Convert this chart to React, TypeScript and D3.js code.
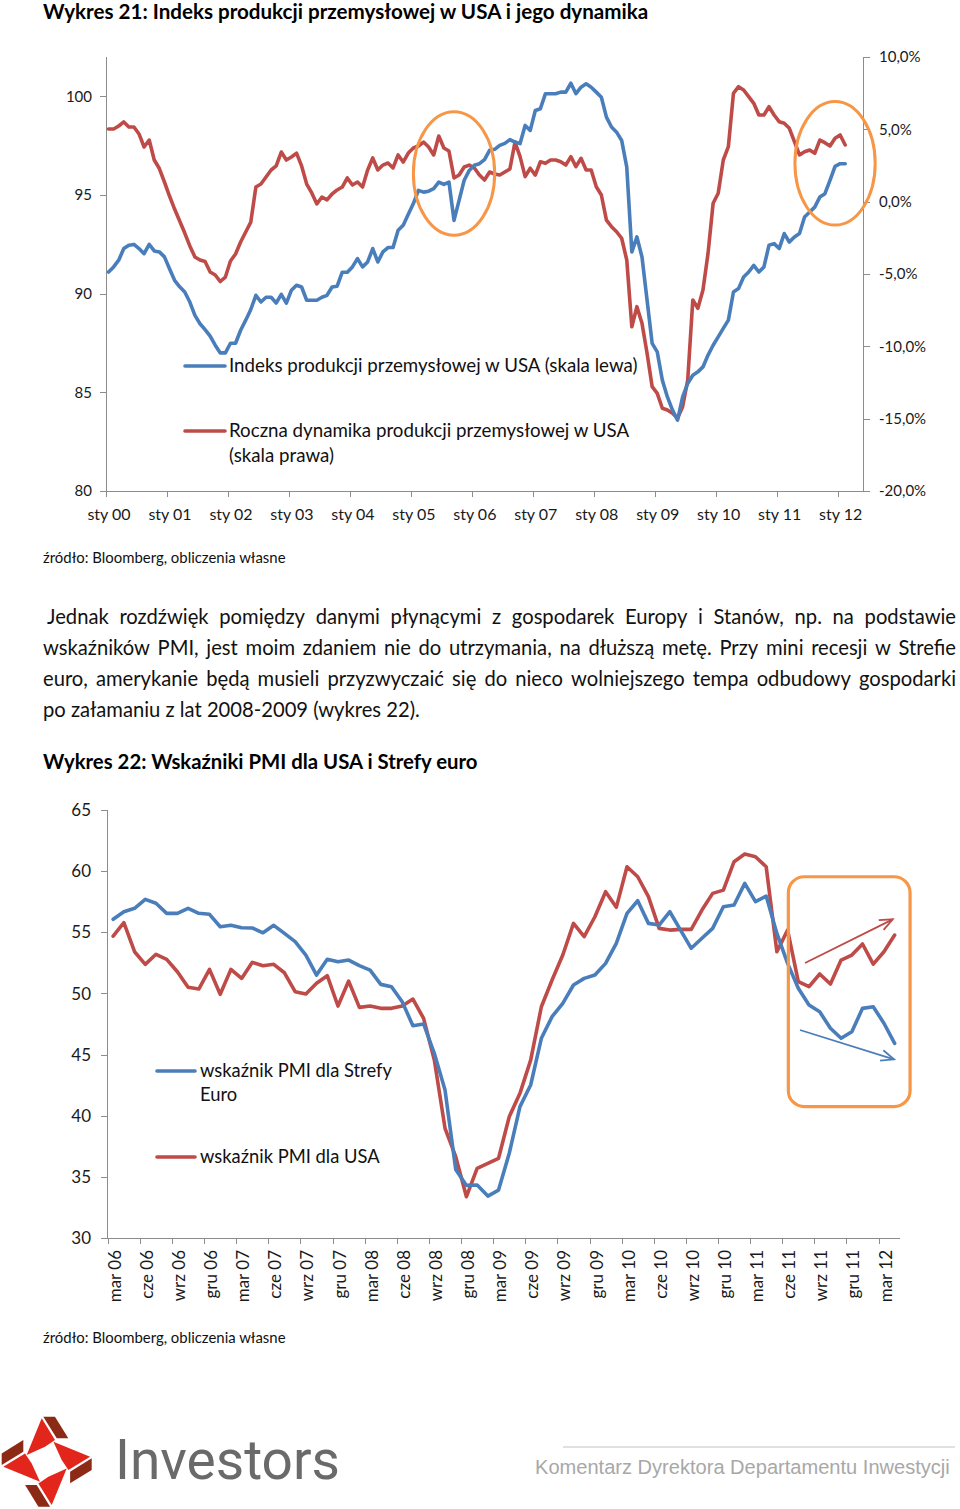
import React, { useMemo } from 'react';
import * as d3 from 'd3';

const FONT = "Lato, 'Open Sans', sans-serif";

// ---------- Wykres 21 data (monthly, sty 2000 .. lut 2012) ----------
const ipIndex = [
  91.1, 91.36, 91.7, 92.29, 92.46, 92.5, 92.29, 92.03, 92.5, 92.17,
  92.12, 91.87, 91.27, 90.68, 90.35, 90.09, 89.58, 88.9, 88.48, 88.18,
  87.85, 87.39, 87.0, 87.0, 87.49, 87.49, 88.15, 88.66, 89.2, 89.92,
  89.58, 89.82, 89.82, 89.53, 89.97, 89.52, 90.18, 90.43, 90.34, 89.67,
  89.67, 89.67, 89.82, 89.92, 90.34, 90.38, 91.09, 91.09, 91.36, 91.78,
  91.36, 91.61, 92.29, 91.61, 92.12, 92.34, 92.34, 93.22, 93.47, 94.03,
  94.57, 95.24, 95.15, 95.2, 95.33, 95.66, 95.54, 95.66, 93.72, 94.73,
  95.75, 96.25, 96.51, 96.59, 96.8, 97.27,
  97.32, 97.52, 97.62, 97.81,
  97.69, 97.61, 98.53, 98.28, 99.29, 99.38,
  100.14, 100.14, 100.14, 100.22, 100.22, 100.67, 100.14, 100.47, 100.64, 100.47,
  100.22, 99.96, 98.95, 98.45, 98.19, 97.77, 96.42, 92.12, 92.88, 91.86,
  89.67, 87.48, 87.05, 85.62, 84.77, 84.1, 83.59, 84.77, 85.45, 85.87,
  86.04, 86.29, 86.89, 87.39, 87.81, 88.24, 88.66, 90.09, 90.26, 90.85,
  91.1, 91.44, 91.1, 91.36, 92.46, 92.54, 92.29, 93.05, 92.62, 92.88,
  93.05, 93.89, 94.14, 94.39, 94.9, 95.07, 95.75, 96.46, 96.59, 96.59,
];

const ipYoY = [
  5.02, 5.02, 5.23, 5.51, 5.16, 5.16, 4.68, 3.78, 4.26, 2.88,
  2.29, 1.36, 0.39, -0.51, -1.34, -2.17, -3.06, -3.82, -4.03, -4.14,
  -4.86, -5.07, -5.52, -5.21, -4.1, -3.62, -2.79, -2.1, -1.41, 1.01,
  1.22, 1.71, 2.19, 2.47, 3.43, 2.88, 3.09, 3.36, 2.47, 1.22,
  0.6, -0.16, 0.32, 0.12, 0.53, 0.81, 1.01, 1.64, 1.15, 1.36,
  1.01, 2.19, 3.02, 2.19, 2.53, 2.67, 2.33, 3.23, 2.74, 3.36,
  3.71, 3.85, 4.12, 3.78, 3.23, 4.54, 3.71, 3.5, 1.64, 1.84,
  2.4, 2.53, 2.33, 1.84, 1.5, 2.05,
  1.91, 1.84, 2.05, 2.26, 4.12, 3.11, 1.73, 2.31, 1.84, 2.76,
  2.65, 2.88, 2.88, 2.76, 2.53, 3.11, 2.42, 3.0, 2.19,
  2.19, 1.03, 0.46, -1.27, -1.73, -2.08, -2.53, -4.03, -8.65, -7.26,
  -8.41, -10.48, -12.79, -13.25, -14.28, -14.4, -14.63, -14.97, -14.17, -12.33,
  -6.8, -7.37, -6.11, -3.57, -0.11, 0.58, 2.88, 3.8, 7.49, 7.95,
  7.72, 7.26, 6.8, 5.99, 5.99, 6.56, 5.99, 5.53, 5.42, 5.07,
  4.15, 3.23, 3.45, 3.57, 3.34, 4.26, 4.08, 3.85, 4.38, 4.61,
  3.92,
];

const yearLabels = ['sty 00', 'sty 01', 'sty 02', 'sty 03', 'sty 04', 'sty 05', 'sty 06', 'sty 07', 'sty 08', 'sty 09', 'sty 10', 'sty 11', 'sty 12'];
const leftTicks1 = [80, 85, 90, 95, 100];
const rightTicks1 = [-20, -15, -10, -5, 0, 5, 10];

// ---------- Wykres 22 data (monthly, mar 2006 .. kwi 2012) ----------
const pmiEuro = [
  56.06, 56.68, 56.96, 57.69, 57.37, 56.55, 56.55, 56.96, 56.55, 56.47,
  55.45, 55.57, 55.37, 55.35, 54.96, 55.57, 54.91, 54.23, 53.14, 51.5,
  52.79, 52.59, 52.73, 52.27, 51.91, 50.74, 50.55, 49.32, 47.36, 47.5,
  45.1, 42.1, 35.6, 34.3, 34.33, 33.43, 33.92, 36.93, 40.74, 42.51,
  46.33, 48.1, 49.19, 50.69, 51.23, 51.5, 52.46, 54.1, 56.55, 57.58,
  55.73, 55.59, 56.68, 55.18, 53.69, 54.51, 55.32, 57.09, 57.23, 59.0,
  57.5, 57.96, 54.91, 52.46, 50.42, 49.05, 48.5, 47.15, 46.33, 46.87,
  48.78, 48.91, 47.56, 45.92,
];

const pmiUsa = [
  54.69, 55.78, 53.41, 52.38, 53.2, 52.79, 51.77, 50.5, 50.36, 51.97,
  49.93, 51.97, 51.23, 52.54, 52.27, 52.38, 51.69, 50.14, 49.95, 50.83,
  51.45, 48.97, 51.01, 48.86, 48.97, 48.78, 48.78, 48.97, 49.54, 47.96,
  44.55, 38.97, 36.65, 33.38, 35.7, 36.11, 36.52, 39.92, 41.83, 44.55,
  48.91, 51.1, 53.14, 55.73, 54.64, 56.27, 58.32, 57.04, 60.36, 59.54,
  57.91, 55.32, 55.18, 55.24, 55.24, 56.82, 58.18, 58.45, 60.77, 61.4,
  61.18, 60.36, 53.41, 55.18, 50.96, 50.55, 51.59, 50.77, 52.73, 53.14,
  54.04, 52.4, 53.41, 54.77,
];

const quarterLabels = [
  'mar 06', 'cze 06', 'wrz 06', 'gru 06', 'mar 07', 'cze 07', 'wrz 07', 'gru 07',
  'mar 08', 'cze 08', 'wrz 08', 'gru 08', 'mar 09', 'cze 09', 'wrz 09', 'gru 09',
  'mar 10', 'cze 10', 'wrz 10', 'gru 10', 'mar 11', 'cze 11', 'wrz 11', 'gru 11', 'mar 12',
];
const pmiTicks = [30, 35, 40, 45, 50, 55, 60, 65];

const paragraphLines = [
  'Jednak rozdźwięk pomiędzy danymi płynącymi z gospodarek Europy i Stanów, np. na podstawie',
  'wskaźników PMI, jest moim zdaniem nie do utrzymania, na dłuższą metę. Przy mini recesji w Strefie',
  'euro, amerykanie będą musieli przyzwyczaić się do nieco wolniejszego tempa odbudowy gospodarki',
  'po załamaniu z lat 2008-2009 (wykres 22).',
];

// annotations (data units)
const ellipses1 = [
  { i: 68.5, v: 96.1, ri: 8.0, rv: 3.13 },
  { i: 143.5, v: 96.61, ri: 7.9, rv: 3.13 },
];
const box2 = { k0: 63.57, k1: 74.94, v0: 59.54, v1: 40.74 };
const arrows2 = [
  { k0: 65.13, v0: 52.49, k1: 73.32, v1: 56.06, color: '#BE4B48' },
  { k0: 64.66, v0: 47.01, k1: 73.44, v1: 44.61, color: '#4A7EBB' },
];

const BLUE = '#4A7EBB';
const RED = '#BE4B48';
const ORANGE = '#F79646';
const AXIS = '#8C8C8C';

let ctx: CanvasRenderingContext2D | null = null;
function measure(text: string, font: string): number {
  if (!ctx) ctx = document.createElement('canvas').getContext('2d');
  ctx!.font = font;
  return ctx!.measureText(text).width;
}
function fit(text: string, weight: string, family: string, target: number): number {
  const w = measure(text, `${weight} 100px ${family}`);
  return (100 * target) / w;
}

function Justified({ text, x0, x1, y, size }: { text: string; x0: number; x1: number; y: number; size: number }) {
  const words = text.split(' ');
  const widths = words.map((w) => measure(w, `normal ${size}px ${FONT}`));
  const sum = widths.reduce((a, b) => a + b, 0);
  const gap = Math.max(2, (x1 - x0 - sum) / (words.length - 1));
  let cx = x0;
  return (
    <g>
      {words.map((w, i) => {
        const el = (
          <text key={i} x={cx} y={y} fontSize={size} fontFamily={FONT} fill="#111">
            {w}
          </text>
        );
        cx += widths[i] + gap;
        return el;
      })}
    </g>
  );
}

function rot(p: [number, number], q: number): [number, number] {
  let [x, y] = p;
  for (let r = 0; r < q; r++) {
    const t = x;
    x = -y;
    y = t;
  }
  return [x, y];
}

export default function App() {
  const W = 960;
  const H = 1509;

  const x1 = d3.scaleLinear().domain([0, 149]).range([106, 863]);
  const yL = d3.scaleLinear().domain([80, 102]).range([491, 57]);
  const yR = d3.scaleLinear().domain([-20, 10]).range([491, 57]);
  const x2 = d3.scaleLinear().domain([0, 74]).range([107.8, 900]);
  const y2 = d3.scaleLinear().domain([30, 65]).range([1238, 810]);

  const lineIP = d3.line<number>().x((_, i) => x1(i + 0.5)).y((d) => yL(d));
  const lineYoY = d3.line<number>().x((_, i) => x1(i + 0.5)).y((d) => yR(d));
  const linePmi = d3.line<number>().x((_, i) => x2(i + 0.5)).y((d) => y2(d));

  const sizes = useMemo(() => {
    return {
      title1: fit('Wykres 21: Indeks produkcji przemysłowej w USA i jego dynamika', 'bold', FONT, 607),
      title2: fit('Wykres 22: Wskaźniki PMI dla USA i Strefy euro', 'bold', FONT, 436),
      source: fit('źródło: Bloomberg, obliczenia własne', 'normal', FONT, 243),
      leg1: fit('Indeks produkcji przemysłowej w USA (skala lewa)', 'normal', FONT, 410),
      leg2: fit('wskaźnik PMI dla Strefy', 'normal', FONT, 192),
      para: fit(paragraphLines[3], 'normal', FONT, 377),
      investors: fit('Investors', 'normal', "Roboto, 'Noto Sans', sans-serif", 225),
      koment: fit('Komentarz Dyrektora Departamentu Inwestycji', 'normal', "'Liberation Sans Narrow', 'Liberation Sans', sans-serif", 415),
    };
  }, []);

  const yearTicks = d3.range(0, 13).map((j) => j * 12);
  const quarterTicks = d3.range(0, 25).map((j) => j * 3);

  // logo geometry (relative to center)
  const logoC: [number, number] = [46.7, 1461.7];
  const redPiece: [number, number][] = [[-5, -43.4], [8.3, -21.7], [-1.7, -15], [-20, -6.7]];
  const brownPiece: [number, number][] = [[-3.4, -45], [8.3, -45], [21.6, -23.4], [10, -23.4]];
  const piecePath = (pts: [number, number][], q: number) =>
    'M' + pts.map((p) => {
      const [x, y] = rot(p, q);
      return `${(logoC[0] + x).toFixed(1)},${(logoC[1] + y).toFixed(1)}`;
    }).join('L') + 'Z';

  const arrowHead = (a: typeof arrows2[number]) => {
    const X0 = x2(a.k0), Y0 = y2(a.v0), X1 = x2(a.k1), Y1 = y2(a.v1);
    const ang = Math.atan2(Y1 - Y0, X1 - X0);
    const L = 14, sp = 0.4;
    const pA = [X1 - L * Math.cos(ang - sp), Y1 - L * Math.sin(ang - sp)];
    const pB = [X1 - L * Math.cos(ang + sp), Y1 - L * Math.sin(ang + sp)];
    return { X0, Y0, X1, Y1, d: `M${pA[0]},${pA[1]}L${X1},${Y1}L${pB[0]},${pB[1]}` };
  };

  return (
    <svg
      width={W}
      height={H}
      viewBox={`0 0 ${W} ${H}`}
      style={{ position: 'absolute', left: 0, top: 0, background: '#fff' }}
    >
      <rect x={0} y={0} width={W} height={H} fill="#fff" />

      {/* ---------------- Wykres 21 ---------------- */}
      <text x={43} y={19} fontSize={sizes.title1} fontWeight="bold" fontFamily={FONT} fill="#000">
        Wykres 21: Indeks produkcji przemysłowej w USA i jego dynamika
      </text>

      {/* axes */}
      <g stroke={AXIS} strokeWidth={1.2} shapeRendering="crispEdges">
        <line x1={106.5} x2={106.5} y1={57} y2={491} />
        <line x1={863.5} x2={863.5} y1={57} y2={491} />
        <line x1={106} x2={864} y1={491.5} y2={491.5} />
        {leftTicks1.map((t) => (
          <line key={'lt' + t} x1={100} x2={106.5} y1={Math.round(yL(t)) + 0.5} y2={Math.round(yL(t)) + 0.5} />
        ))}
        {rightTicks1.map((t) => (
          <line key={'rt' + t} x1={863.5} x2={870} y1={Math.round(yR(t)) + 0.5} y2={Math.round(yR(t)) + 0.5} />
        ))}
        {yearTicks.map((i) => (
          <line key={'xt' + i} x1={Math.round(x1(i)) + 0.5} x2={Math.round(x1(i)) + 0.5} y1={491} y2={497} />
        ))}
      </g>
      <g fontFamily={FONT} fontSize={15} fill="#1a1a1a">
        {leftTicks1.map((t) => (
          <text key={'ll' + t} x={92} y={yL(t)} dy="0.36em" textAnchor="end">
            {t}
          </text>
        ))}
        {rightTicks1.map((t) => (
          <text key={'rl' + t} x={879} y={yR(t)} dy="0.36em" textAnchor="start">
            {d3.format('.1f')(t).replace('.', ',').replace('−', '-') + '%'}
          </text>
        ))}
      </g>
      <g fontFamily={FONT} fontSize={16} fill="#1a1a1a">
        {yearTicks.map((i, j) => (
          <text key={'xl' + i} x={x1(i + 0.5) + 0.5} y={520} textAnchor="middle">
            {yearLabels[j]}
          </text>
        ))}
      </g>

      {/* series */}
      <path d={lineYoY(ipYoY) || ''} fill="none" stroke={RED} strokeWidth={3.6} strokeLinejoin="round" strokeLinecap="round" />
      <path d={lineIP(ipIndex) || ''} fill="none" stroke={BLUE} strokeWidth={3.6} strokeLinejoin="round" strokeLinecap="round" />

      {/* annotations */}
      {ellipses1.map((e, i) => (
        <ellipse
          key={'el' + i}
          cx={x1(e.i)}
          cy={yL(e.v)}
          rx={x1(e.i + e.ri) - x1(e.i)}
          ry={yL(e.v - e.rv) - yL(e.v)}
          fill="none"
          stroke={ORANGE}
          strokeWidth={3}
        />
      ))}

      {/* legend 1 */}
      <line x1={185} x2={225} y1={366} y2={366} stroke={BLUE} strokeWidth={3.6} strokeLinecap="round" />
      <text x={229} y={372} fontSize={sizes.leg1} fontFamily={FONT} fill="#111">
        Indeks produkcji przemysłowej w USA (skala lewa)
      </text>
      <line x1={185} x2={225} y1={431} y2={431} stroke={RED} strokeWidth={3.6} strokeLinecap="round" />
      <text x={229} y={437} fontSize={sizes.leg1} fontFamily={FONT} fill="#111">
        Roczna dynamika produkcji przemysłowej w USA
      </text>
      <text x={229} y={462} fontSize={sizes.leg1} fontFamily={FONT} fill="#111">
        (skala prawa)
      </text>

      <text x={43} y={563} fontSize={sizes.source} fontFamily={FONT} fill="#111">
        źródło: Bloomberg, obliczenia własne
      </text>

      {/* ---------------- paragraph ---------------- */}
      <Justified text={paragraphLines[0]} x0={47} x1={956} y={624} size={sizes.para} />
      <Justified text={paragraphLines[1]} x0={43} x1={956} y={655} size={sizes.para} />
      <Justified text={paragraphLines[2]} x0={43} x1={956} y={686} size={sizes.para} />
      <text x={43} y={717} fontSize={sizes.para} fontFamily={FONT} fill="#111">
        {paragraphLines[3]}
      </text>

      {/* ---------------- Wykres 22 ---------------- */}
      <text x={43} y={769} fontSize={sizes.title2} fontWeight="bold" fontFamily={FONT} fill="#000">
        Wykres 22: Wskaźniki PMI dla USA i Strefy euro
      </text>

      <g stroke={AXIS} strokeWidth={1.2} shapeRendering="crispEdges">
        <line x1={107.5} x2={107.5} y1={810} y2={1238} />
        <line x1={107} x2={900} y1={1238.5} y2={1238.5} />
        {pmiTicks.map((t) => (
          <line key={'pt' + t} x1={101} x2={107.5} y1={Math.round(y2(t)) + 0.5} y2={Math.round(y2(t)) + 0.5} />
        ))}
        {quarterTicks.map((k) => (
          <line key={'qt' + k} x1={Math.round(x2(k)) + 0.5} x2={Math.round(x2(k)) + 0.5} y1={1238} y2={1244} />
        ))}
      </g>
      <g fontFamily={FONT} fontSize={17} fill="#1a1a1a">
        {pmiTicks.map((t) => (
          <text key={'pl' + t} x={91} y={y2(t)} dy="0.36em" textAnchor="end">
            {t}
          </text>
        ))}
        {quarterTicks.map((k, j) => (
          <text
            key={'ql' + k}
            transform={`translate(${x2(k + 0.5) + 1.5},1250) rotate(-90)`}
            dy="0.36em"
            textAnchor="end"
          >
            {quarterLabels[j]}
          </text>
        ))}
      </g>

      <path d={linePmi(pmiUsa) || ''} fill="none" stroke={RED} strokeWidth={3.6} strokeLinejoin="round" strokeLinecap="round" />
      <path d={linePmi(pmiEuro) || ''} fill="none" stroke={BLUE} strokeWidth={3.6} strokeLinejoin="round" strokeLinecap="round" />

      <rect
        x={x2(box2.k0)}
        y={y2(box2.v0)}
        width={x2(box2.k1) - x2(box2.k0)}
        height={y2(box2.v1) - y2(box2.v0)}
        rx={16}
        ry={16}
        fill="none"
        stroke={ORANGE}
        strokeWidth={3.2}
      />
      {arrows2.map((a, i) => {
        const h = arrowHead(a);
        return (
          <g key={'ar' + i} stroke={a.color} strokeWidth={1.8} fill="none">
            <line x1={h.X0} y1={h.Y0} x2={h.X1} y2={h.Y1} />
            <path d={h.d} />
          </g>
        );
      })}

      {/* legend 2 */}
      <line x1={157} x2={195} y1={1071} y2={1071} stroke={BLUE} strokeWidth={3.6} strokeLinecap="round" />
      <text x={200} y={1077} fontSize={sizes.leg2} fontFamily={FONT} fill="#111">
        wskaźnik PMI dla Strefy
      </text>
      <text x={200} y={1101} fontSize={sizes.leg2} fontFamily={FONT} fill="#111">
        Euro
      </text>
      <line x1={157} x2={195} y1={1157} y2={1157} stroke={RED} strokeWidth={3.6} strokeLinecap="round" />
      <text x={200} y={1163} fontSize={sizes.leg2} fontFamily={FONT} fill="#111">
        wskaźnik PMI dla USA
      </text>

      <text x={43} y={1343} fontSize={sizes.source} fontFamily={FONT} fill="#111">
        źródło: Bloomberg, obliczenia własne
      </text>

      {/* ---------------- footer ---------------- */}
      <g>
        {[0, 1, 2, 3].map((q) => (
          <g key={'lg' + q}>
            <path d={piecePath(redPiece, q)} fill="#E2261C" />
            <path d={piecePath(brownPiece, q)} fill="#8C2A16" />
          </g>
        ))}
      </g>
      <text
        x={115}
        y={1479}
        fontSize={sizes.investors}
        fontFamily="Roboto, 'Noto Sans', sans-serif"
        fill="#6A6A6A"
      >
        Investors
      </text>
      <line x1={563} x2={955} y1={1447} y2={1447} stroke="#D6D6D6" strokeWidth={1.6} />
      <text
        x={535}
        y={1474}
        fontSize={sizes.koment}
        fontFamily="'Liberation Sans Narrow', 'Liberation Sans', sans-serif"
        fill="#A8A8A8"
      >
        Komentarz Dyrektora Departamentu Inwestycji
      </text>
    </svg>
  );
}
